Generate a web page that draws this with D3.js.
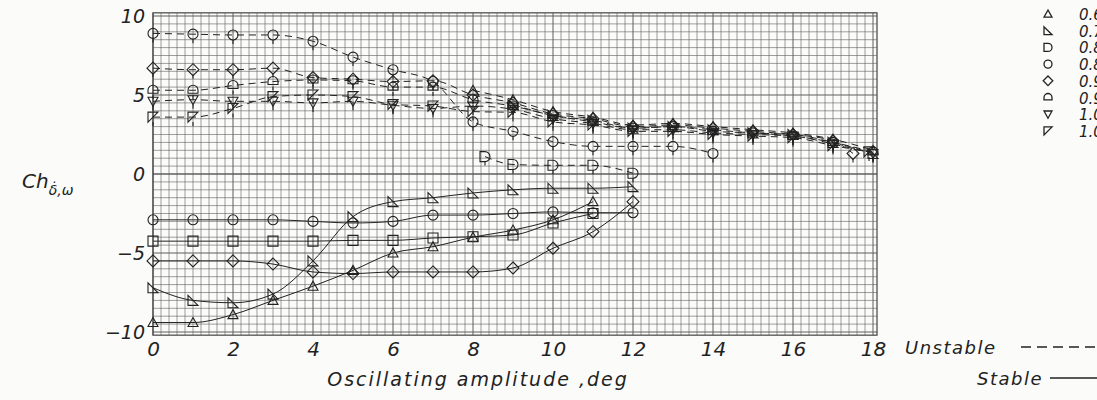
<!DOCTYPE html>
<html>
<head>
<meta charset="utf-8">
<script src="https://cdn.jsdelivr.net/npm/d3@7"></script>
<style>
  body { margin: 0; background: #fbfbf9; }
  svg { display: block; }
  text { font-family: "DejaVu Sans", sans-serif; font-style: oblique; fill: #222; }
</style>
</head>
<body>
<div id="chart"></div>
<script>
// legend labels (right edge of the page cuts them off, as in the original)
var machLabels = ['0.60', '0.70', '0.80', '0.85', '0.90', '0.95', '1.00', '1.05'];

var xTicks = [0, 2, 4, 6, 8, 10, 12, 14, 16, 18];
var yTicks = [10, 5, 0, -5, -10];

// stable branches (solid lines)
var stableTriX = [0, 1, 2, 3, 4, 5, 6, 7, 8, 9, 10, 11];
var stableTriY = [-9.4, -9.4, -8.9, -8.0, -7.1, -6.1, -5.0, -4.6, -4.0, -3.55, -2.9, -1.75];
var stableFlagX = [0, 1, 2, 3, 4, 5, 6, 7, 8, 9, 10, 11, 12];
var stableFlagY = [-7.2, -8.0, -8.15, -7.6, -5.5, -2.7, -1.75, -1.5, -1.2, -1.0, -0.9, -0.9, -0.8];
var stableSquareX = [0, 1, 2, 3, 4, 5, 6, 7, 8, 9, 10, 11];
var stableSquareY = [-4.25, -4.25, -4.25, -4.25, -4.25, -4.2, -4.2, -4.05, -3.97, -3.86, -3.1, -2.5];
var stableCircleX = [0, 1, 2, 3, 4, 5, 6, 7, 8, 9, 10, 11, 12];
var stableCircleY = [-2.9, -2.9, -2.9, -2.9, -3.0, -3.1, -3.0, -2.6, -2.6, -2.5, -2.4, -2.45, -2.45];
var stableDiamondX = [0, 1, 2, 3, 4, 5, 6, 7, 8, 9, 10, 11, 12];
var stableDiamondY = [-5.5, -5.5, -5.5, -5.7, -6.2, -6.3, -6.2, -6.2, -6.2, -5.95, -4.7, -3.65, -1.75];

// unstable branches (dashed lines)
var unstTriX = [8, 9, 10, 11, 12, 13, 14, 15, 16, 17, 18];
var unstTriY = [5.3, 4.7, 3.95, 3.6, 3.1, 3.2, 3.0, 2.8, 2.6, 2.2, 1.5];
var unstFlagX = [9, 10, 11, 12, 13, 14, 15, 16, 17, 18];
var unstFlagY = [4.4, 3.7, 3.4, 2.9, 3.0, 2.8, 2.6, 2.5, 2.0, 1.3];
var unstDX = [8.3, 9, 10, 11, 12];
var unstDY = [1.1, 0.6, 0.55, 0.55, 0.05];
var unstCircleX = [0, 1, 2, 3, 4, 5, 6, 7, 8, 9, 10, 11, 12, 13, 14];
var unstCircleY = [8.9, 8.85, 8.8, 8.8, 8.4, 7.4, 6.6, 5.85, 3.3, 2.7, 2.05, 1.75, 1.75, 1.75, 1.3];
var unstDiamondX = [0, 1, 2, 3, 4, 5, 6, 7, 8, 9, 10, 11, 12, 13, 14, 15, 16, 17, 17.5];
var unstDiamondY = [6.7, 6.6, 6.6, 6.7, 6.1, 6.0, 5.85, 5.9, 5.0, 4.5, 3.8, 3.5, 3.0, 3.1, 2.9, 2.7, 2.5, 2.1, 1.3];
var unstHouseX = [0, 1, 2, 3, 4, 5, 6, 7, 8, 9, 10, 11, 12, 13, 14, 15, 16, 17, 18];
var unstHouseY = [5.3, 5.3, 5.6, 5.85, 5.95, 5.9, 5.5, 5.5, 4.7, 4.3, 3.7, 3.3, 2.9, 3.0, 2.7, 2.6, 2.4, 2.0, 1.4];
var unstDownX = [0, 1, 2, 3, 4, 5, 6, 7, 8, 9, 10, 11, 12, 13, 14, 15, 16, 17, 18];
var unstDownY = [4.6, 4.7, 4.6, 4.6, 4.5, 4.6, 4.35, 4.15, 4.3, 4.1, 3.5, 3.2, 2.8, 2.8, 2.6, 2.5, 2.4, 1.9, 1.3];
var unstUpFlagX = [0, 1, 2, 3, 4, 5, 6, 7, 8, 9, 10, 11, 12, 13, 14, 15, 16, 17, 17.9];
var unstUpFlagY = [3.6, 3.6, 4.15, 4.9, 5.0, 4.9, 4.4, 4.3, 3.95, 3.9, 3.3, 3.1, 2.7, 2.7, 2.5, 2.4, 2.3, 1.8, 1.4];

var width = 1097, height = 400;

var x = d3.scaleLinear().domain([0, 18]).range([153, 873]);
var y = d3.scaleLinear().domain([-10, 10]).range([332, 16]);

// symbol shapes, r = half size
function shape(kind, r) {
  switch (kind) {
    case 'triUp': return 'M0,' + (-r) + 'L' + r + ',' + r * 0.8 + 'L' + (-r) + ',' + r * 0.8 + 'Z';
    case 'triDown': return 'M0,' + r + 'L' + r + ',' + (-r * 0.8) + 'L' + (-r) + ',' + (-r * 0.8) + 'Z';
    case 'flagDown': return 'M' + (-r) + ',' + (-r) + 'L' + (-r) + ',' + r + 'L' + r + ',' + r + 'Z';
    case 'flagUp': return 'M' + (-r) + ',' + (-r) + 'L' + r + ',' + (-r) + 'L' + (-r) + ',' + r + 'Z';
    case 'square': return 'M' + (-r) + ',' + (-r) + 'h' + 2 * r + 'v' + 2 * r + 'h' + (-2 * r) + 'Z';
    case 'dshape': return 'M' + (-r) + ',' + (-r) + 'L0,' + (-r) + 'A' + r + ',' + r + ' 0 0 1 0,' + r + 'L' + (-r) + ',' + r + 'Z';
    case 'circle': return 'M' + (-r) + ',0A' + r + ',' + r + ' 0 1 1 ' + r + ',0A' + r + ',' + r + ' 0 1 1 ' + (-r) + ',0Z';
    case 'diamond': return 'M0,' + (-r * 1.2) + 'L' + r * 1.2 + ',0L0,' + r * 1.2 + 'L' + (-r * 1.2) + ',0Z';
    case 'house': return 'M' + (-r) + ',' + r * 0.6 + 'L' + (-r) + ',0A' + r + ',' + r + ' 0 0 1 ' + r + ',0L' + r + ',' + r * 0.6 + 'Z';
  }
}

var svg = d3.select('#chart').append('svg')
  .attr('width', width)
  .attr('height', height);

// graph paper
var grid = svg.append('g').attr('class', 'grid');
var gx0 = 0, gx1 = 18.1, gy0 = -10.2, gy1 = 10.2;
var vLines = d3.range(0, 90.5, 1).map(function (i) { return i * 0.2; }).filter(function (v) { return v <= gx1; });
var hLines = d3.range(-20, 20.5, 1).map(function (i) { return i * 0.5; });

grid.selectAll('.v').data(vLines).enter().append('line')
  .attr('x1', function (d) { return x(d); }).attr('x2', function (d) { return x(d); })
  .attr('y1', y(gy0)).attr('y2', y(gy1))
  .attr('stroke', '#5e5e5e')
  .attr('stroke-width', function (d) { return Math.abs(d / 2 - Math.round(d / 2)) < 1e-6 ? 1 : 0.6; });

grid.selectAll('.h').data(hLines).enter().append('line')
  .attr('x1', x(gx0)).attr('x2', x(gx1))
  .attr('y1', function (d) { return y(d); }).attr('y2', function (d) { return y(d); })
  .attr('stroke', '#5e5e5e')
  .attr('stroke-width', function (d) { return d === 0 ? 1.6 : (d % 5 === 0 ? 1 : 0.6); });

// outer frame
grid.append('rect')
  .attr('x', x(gx0)).attr('y', y(gy1))
  .attr('width', x(gx1) - x(gx0)).attr('height', y(gy0) - y(gy1))
  .attr('fill', 'none').attr('stroke', '#444').attr('stroke-width', 1.2);

// axes (labels only)
svg.append('g')
  .attr('transform', 'translate(0,' + (y(-10) + 2) + ')')
  .call(d3.axisBottom(x).tickValues(xTicks).tickSize(0).tickPadding(8))
  .call(function (g) { g.select('.domain').remove(); })
  .selectAll('text')
  .style('font-size', '20px').style('font-family', '"DejaVu Sans", sans-serif')
  .style('font-style', 'oblique').attr('fill', '#222');

svg.append('g')
  .attr('transform', 'translate(' + (x(0) - 6) + ',0)')
  .call(d3.axisLeft(y).tickValues(yTicks).tickSize(0).tickPadding(2))
  .call(function (g) { g.select('.domain').remove(); })
  .selectAll('text')
  .style('font-size', '19px').style('font-family', '"DejaVu Sans", sans-serif')
  .style('font-style', 'oblique').attr('fill', '#222');

var line = d3.line()
  .x(function (d) { return x(d[0]); })
  .y(function (d) { return y(d[1]); })
  .curve(d3.curveMonotoneX);

var series = [
  { xs: stableTriX, ys: stableTriY, sym: 'triUp', dash: false },
  { xs: stableFlagX, ys: stableFlagY, sym: 'flagDown', dash: false },
  { xs: stableSquareX, ys: stableSquareY, sym: 'square', dash: false },
  { xs: stableCircleX, ys: stableCircleY, sym: 'circle', dash: false },
  { xs: stableDiamondX, ys: stableDiamondY, sym: 'diamond', dash: false },
  { xs: unstTriX, ys: unstTriY, sym: 'triUp', dash: true },
  { xs: unstFlagX, ys: unstFlagY, sym: 'flagDown', dash: true },
  { xs: unstDX, ys: unstDY, sym: 'dshape', dash: true },
  { xs: unstCircleX, ys: unstCircleY, sym: 'circle', dash: true },
  { xs: unstDiamondX, ys: unstDiamondY, sym: 'diamond', dash: true },
  { xs: unstHouseX, ys: unstHouseY, sym: 'house', dash: true },
  { xs: unstDownX, ys: unstDownY, sym: 'triDown', dash: true },
  { xs: unstUpFlagX, ys: unstUpFlagY, sym: 'flagUp', dash: true }
];

series.forEach(function (s) {
  var pts = s.xs.map(function (v, i) { return [v, s.ys[i]]; });
  svg.append('path')
    .datum(pts)
    .attr('d', line)
    .attr('fill', 'none')
    .attr('stroke', '#222')
    .attr('stroke-width', 1)
    .attr('stroke-dasharray', s.dash ? '7,5' : null);

  var g = svg.append('g');
  g.selectAll('path').data(pts).enter().append('path')
    .attr('transform', function (d) { return 'translate(' + x(d[0]) + ',' + y(d[1]) + ')'; })
    .attr('d', shape(s.sym, 5))
    .attr('fill', 'none')
    .attr('stroke', '#222')
    .attr('stroke-width', 1.1);
  if (s.dash) {
    // flagged symbols for the unstable points
    g.selectAll('line').data(pts).enter().append('line')
      .attr('x1', function (d) { return x(d[0]); }).attr('x2', function (d) { return x(d[0]); })
      .attr('y1', function (d) { return y(d[1]) + 5; }).attr('y2', function (d) { return y(d[1]) + 9; })
      .attr('stroke', '#222').attr('stroke-width', 1.1);
  }
});

// y axis title
var yt = svg.append('text').attr('x', 22).attr('y', 188).style('font-size', '20px');
yt.append('tspan').text('Ch');
yt.append('tspan').attr('dy', 7).style('font-size', '14px').text('δ\u0307,ω');

// x axis title
svg.append('text')
  .attr('x', 478).attr('y', 386)
  .attr('text-anchor', 'middle')
  .style('font-size', '19px').style('letter-spacing', '2px')
  .text('Oscillating amplitude ,deg');

// line style key
var legendSyms = ['triUp', 'flagDown', 'dshape', 'circle', 'diamond', 'house', 'triDown', 'flagUp'];
svg.append('text').attr('x', 905).attr('y', 354).style('font-size', '18px').style('letter-spacing', '1.5px').text('Unstable');
svg.append('line').attr('x1', 1021).attr('x2', 1097).attr('y1', 347).attr('y2', 347)
  .attr('stroke', '#222').attr('stroke-width', 1.4).attr('stroke-dasharray', '10,6');
svg.append('text').attr('x', 977).attr('y', 385).style('font-size', '18px').style('letter-spacing', '1.5px').text('Stable');
svg.append('line').attr('x1', 1050).attr('x2', 1097).attr('y1', 378).attr('y2', 378)
  .attr('stroke', '#222').attr('stroke-width', 1.4);

// symbol legend
var leg = svg.append('g');
machLabels.forEach(function (lab, i) {
  var ly = 14 + i * 16.7;
  leg.append('path')
    .attr('transform', 'translate(1048,' + ly + ')')
    .attr('d', shape(legendSyms[i], 4))
    .attr('fill', 'none').attr('stroke', '#222').attr('stroke-width', 1.3);
  leg.append('text')
    .attr('x', 1079).attr('y', ly + 6)
    .style('font-size', '15px')
    .text(lab);
});
</script>
</body>
</html>
